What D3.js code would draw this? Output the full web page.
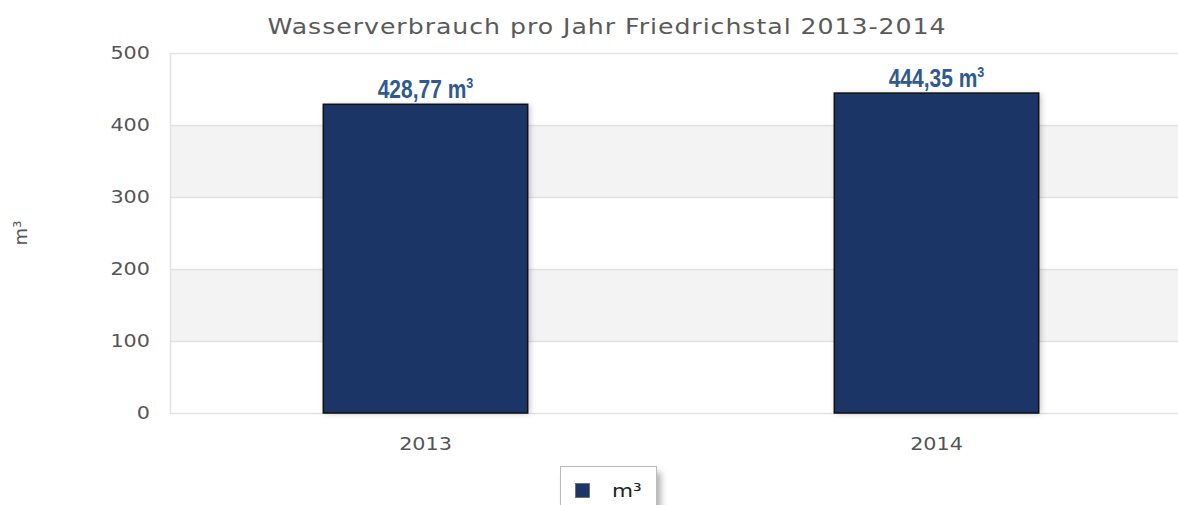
<!DOCTYPE html>
<html>
<head>
<meta charset="utf-8">
<script src="https://cdn.jsdelivr.net/npm/d3@7"></script>
<style>
    body { margin: 0; background: #fff; }
</style>
</head>
<body>
<div id="canvas"></div>
<script>
"use strict";

let years = ["2013", "2014"];
let values = [428.77, 444.35];
let valueLabels = ["428,77", "444,35"];
let yTicks = [0, 100, 200, 300, 400, 500];

let svgWidth = 1178;
let svgHeight = 505;

let margin = { top: 53, right: -14, bottom: 92, left: 170 };

let svg = d3.select("#canvas")
    .append("svg")
    .attr("width", svgWidth)
    .attr("height", svgHeight);

let defs = svg.append("defs");
let blur = defs.append("filter").attr("id", "shadow")
    .attr("x", "-20%").attr("y", "-20%").attr("width", "150%").attr("height", "150%");
blur.append("feGaussianBlur").attr("stdDeviation", 3);

/* ---------------- SCALES ---------------- */

let xScale = d3.scaleBand()
    .domain(years)
    .range([margin.left, svgWidth - margin.right])
    .paddingInner(0)
    .paddingOuter(0);

let yScale = d3.scaleLinear()
    .domain([0, 500])
    .range([svgHeight - margin.bottom, margin.top]);

let plotRight = svgWidth - margin.right;

/* ---------------- BANDS + GRID ---------------- */

let bands = [[100, 200], [300, 400]];
bands.forEach(function (b) {
    svg.append("rect")
        .attr("x", margin.left)
        .attr("y", yScale(b[1]))
        .attr("width", plotRight - margin.left)
        .attr("height", yScale(b[0]) - yScale(b[1]))
        .attr("fill", "#f3f3f3");
});

svg.append("g")
    .selectAll("line")
    .data(yTicks)
    .join("line")
    .attr("x1", margin.left)
    .attr("x2", plotRight)
    .attr("y1", function (d) { return yScale(d) + 0.5; })
    .attr("y2", function (d) { return yScale(d) + 0.5; })
    .attr("stroke", "#e2e2e2")
    .attr("stroke-width", 1.5);

svg.append("line")
    .attr("x1", margin.left + 0.5)
    .attr("x2", margin.left + 0.5)
    .attr("y1", yScale(500))
    .attr("y2", yScale(0))
    .attr("stroke", "#e2e2e2")
    .attr("stroke-width", 1.5);

/* ---------------- AXES ---------------- */

// the picture's text is a bit stretched sideways
let stretch = 1.22;

let yAxis = d3.axisLeft(yScale)
    .tickValues(yTicks)
    .tickSize(0)
    .tickPadding(20 / stretch);

let yG = svg.append("g")
    .attr("transform", "translate(" + margin.left + ",0)")
    .call(yAxis);
yG.select(".domain").remove();
yG.selectAll("text")
    .attr("transform", "scale(" + stretch + ",1)")
    .attr("font-family", "DejaVu Sans")
    .attr("font-size", "17px")
    .attr("fill", "#555");

let xAxis = d3.axisBottom(xScale)
    .tickSize(0)
    .tickPadding(25);

let xG = svg.append("g")
    .attr("transform", "translate(0," + yScale(0) + ")")
    .call(xAxis);
xG.select(".domain").remove();
xG.selectAll("text")
    .attr("transform", "scale(" + stretch + ",1)")
    .attr("font-family", "DejaVu Sans")
    .attr("font-size", "17px")
    .attr("fill", "#555");

/* ---------------- BARS ---------------- */

let barWidth = xScale.bandwidth() * 0.4;

let bars = svg.append("g");

bars.selectAll("rect.shadow")
    .data(values)
    .join("rect")
    .attr("class", "shadow")
    .attr("x", function (d, i) { return xScale(years[i]) + (xScale.bandwidth() - barWidth) / 2 + 2; })
    .attr("y", function (d) { return yScale(d) + 1; })
    .attr("width", barWidth)
    .attr("height", function (d) { return yScale(0) - yScale(d) - 1; })
    .attr("fill", "#000")
    .attr("opacity", 0.25)
    .attr("filter", "url(#shadow)");

bars.selectAll("rect.bar")
    .data(values)
    .join("rect")
    .attr("class", "bar")
    .attr("x", function (d, i) { return xScale(years[i]) + (xScale.bandwidth() - barWidth) / 2; })
    .attr("y", function (d) { return yScale(d); })
    .attr("width", barWidth)
    .attr("height", function (d) { return yScale(0) - yScale(d); })
    .attr("fill", "#1a3566")
    .attr("stroke", "#111")
    .attr("stroke-width", 1.5);

/* ---------------- VALUE LABELS ---------------- */

let labels = svg.append("g");
values.forEach(function (v, i) {
    let cx = xScale(years[i]) + xScale.bandwidth() / 2;
    let t = labels.append("text")
        .attr("transform", "translate(" + cx + "," + (yScale(v) - 6) + ") scale(0.84,1)")
        .attr("text-anchor", "middle")
        .attr("font-family", "'Liberation Sans', Arial, sans-serif")
        .attr("font-weight", "bold")
        .attr("font-size", "25px")
        .attr("fill", "#2f5a90");
    t.append("tspan").text(valueLabels[i] + " m");
    t.append("tspan")
        .attr("font-size", "15px")
        .attr("dy", -10)
        .text("3");
});

/* ---------------- TITLE ---------------- */

svg.append("text")
    .attr("transform", "translate(607,34) scale(1.2,1)")
    .attr("text-anchor", "middle")
    .attr("font-family", "DejaVu Sans")
    .attr("font-size", "21px")
    .attr("letter-spacing", "0.8px")
    .attr("fill", "#5a5a5a")
    .text("Wasserverbrauch pro Jahr Friedrichstal 2013-2014");

/* Y title */
svg.append("text")
    .attr("transform", "translate(27," + yScale(250) + ") rotate(-90)")
    .attr("text-anchor", "middle")
    .attr("font-family", "DejaVu Sans")
    .attr("font-size", "18px")
    .attr("fill", "#555")
    .text("m³");

/* ---------------- LEGEND ---------------- */

let legend = svg.append("g").attr("transform", "translate(560,466)");

legend.append("rect")
    .attr("x", 4)
    .attr("y", 6)
    .attr("width", 97)
    .attr("height", 50)
    .attr("fill", "#000")
    .attr("opacity", 0.3)
    .attr("filter", "url(#shadow)");

legend.append("rect")
    .attr("x", 0.5)
    .attr("y", 0.5)
    .attr("width", 96)
    .attr("height", 50)
    .attr("fill", "#fff")
    .attr("stroke", "#bbb");

legend.append("rect")
    .attr("x", 15.5)
    .attr("y", 17.5)
    .attr("width", 14)
    .attr("height", 14)
    .attr("fill", "#1a3566")
    .attr("stroke", "#666")
    .attr("stroke-width", 0.8);

legend.append("text")
    .attr("transform", "translate(52,31) scale(1.2,1)")
    .attr("font-family", "DejaVu Sans")
    .attr("font-size", "18px")
    .attr("fill", "#222")
    .text("m³");
</script>
</body>
</html>
